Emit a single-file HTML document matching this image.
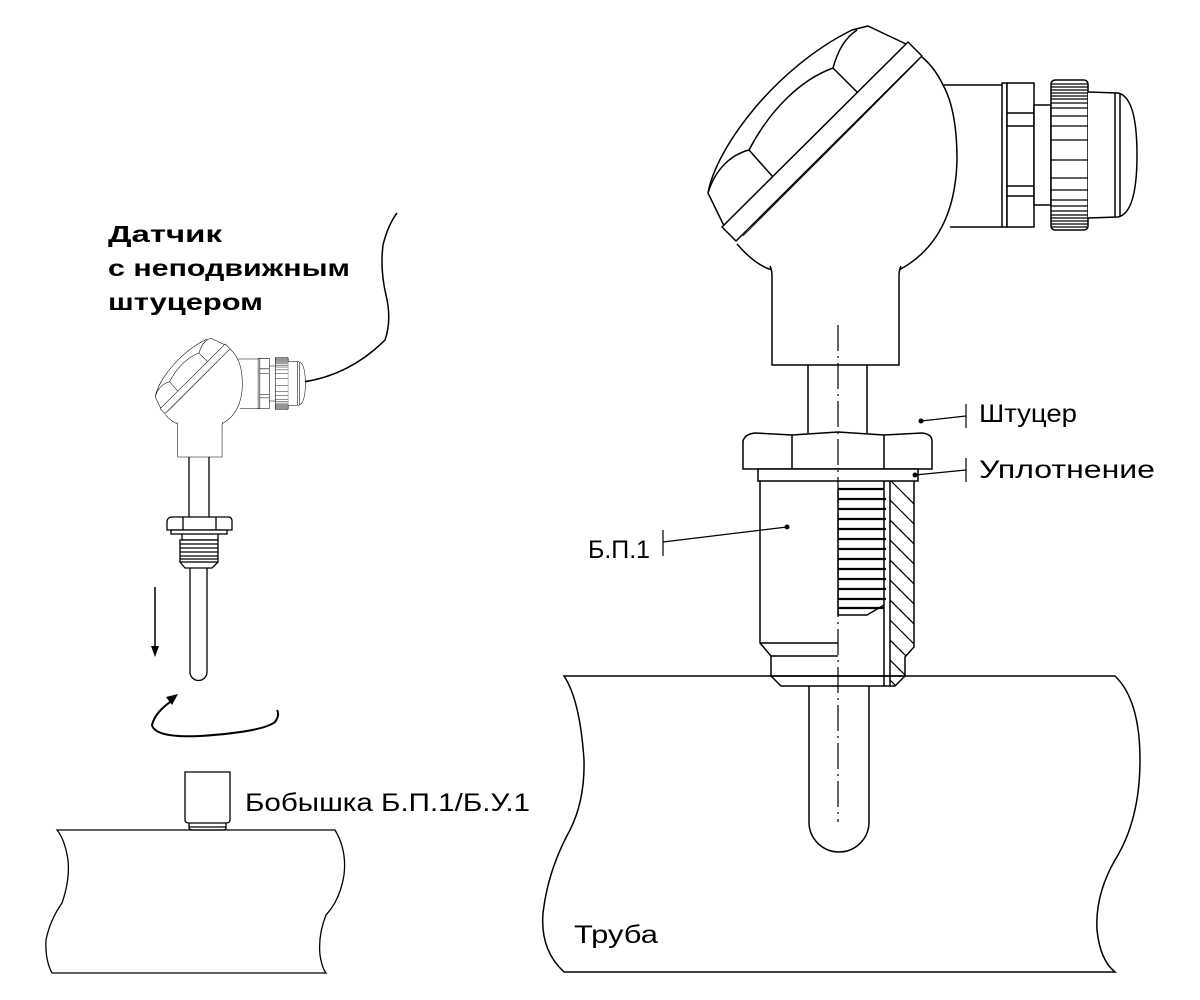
<!DOCTYPE html>
<html><head><meta charset="utf-8"><style>
html,body{margin:0;padding:0;background:#fff}
svg{display:block}
text{font-family:"Liberation Sans","DejaVu Sans",sans-serif;fill:#000}
</style></head><body>
<svg width="1200" height="1000" viewBox="0 0 1200 1000" xmlns="http://www.w3.org/2000/svg">
<defs>
<g id="head" fill="none" stroke="#000" stroke-width="1.5" stroke-linejoin="round">
  <path d="M727,232 L708,193 C716,148 775,68 852,30 L868,26 L906,44" fill="#fff"/>
  <path d="M708,193 C715,170 730,155 749,150 C770,110 800,80 833,68 C838,50 845,38 857,30"/>
  <path d="M749,150 L773,177 M833,68 L857,92"/>
  <polygon points="722,227 908,42 922,56 736,241" fill="#fff"/>
  <line x1="743" y1="236" x2="919" y2="60" stroke-width="0.8"/>
  <path d="M737,244 Q755,265 772,270 Q800,283 835,283 Q870,283 899,270 Q955,240 957,160 Q957,110 943,85 Q935,68 922,57" fill="#fff"/>
  <path d="M943,85 L1002,85 M950,227 L1002,227"/>
  <rect x="1002" y="83" width="5" height="144" fill="#fff"/>
  <rect x="1007" y="83" width="27" height="144" fill="#fff"/>
  <path d="M1007,113 H1034 M1007,126 H1034 M1007,186 H1034 M1007,196 H1034"/>
  <rect x="1034" y="105" width="17" height="100" fill="#fff"/>
  <rect x="1051" y="80" width="37" height="150" rx="4" fill="#fff"/>
  <path d="M1051,84H1088M1051,87H1088M1051,90H1088M1051,93H1088M1051,96H1088M1051,99H1088M1051,103H1088M1051,108H1088M1051,116H1088M1051,126H1088M1051,140H1088M1051,160H1088M1051,178H1088M1051,190H1088M1051,200H1088M1051,206H1088M1051,211H1088M1051,215H1088M1051,218H1088M1051,221H1088M1051,224H1088M1051,227H1088" stroke-width="1.2"/>
  <path d="M1088,92 L1118,93 Q1137,97 1137,155 Q1137,213 1118,217 L1088,218" fill="#fff"/>
  <path d="M1115,93 V217 M1120,94 V216"/>
  <path d="M770,266 Q772,270 772,276 V365 H899 V276 Q899,270 901,266" fill="#fff"/>
</g>
</defs>

<use href="#head"/>
<g fill="none" stroke="#000" stroke-width="1.5">
  <path d="M808,365 V433 M867,365 V433"/>
  <path d="M743,469 V441 Q745,434 755,433 L792,435 L838,432 L884,435 L922,433 Q932,434 932,441 V469 Z" fill="#fff"/>
  <path d="M792,435 V469 M884,435 V469"/>
  <rect x="758" y="469" width="160" height="12" fill="#fff"/>
  <path d="M760,481 V643 L771,656 V676 L781,686 H895 L905,676 V657 L914,647 V481"/>
  <path d="M760,643 H838 M771,656 H838 M771,676 H905"/>
  <path d="M884,481 V686 M890,481 V686"/>
  <path d="M838,490 V615 L867,615 L884,605"/>
</g>
<g stroke="#000" stroke-width="2.2">
  <path d="M838,489H884M838,499H886M838,509H886M838,519H886M838,529H886M838,539H886M838,549H886M838,559H886M838,569H886M838,579H886M838,589H886M838,599H886M838,608H884"/>
</g>
<g stroke="#000" stroke-width="1.2">
  <clipPath id="hc"><path d="M890,481 L914,481 V647 L905,657 V676 L895,686 H890 Z"/></clipPath>
  <g clip-path="url(#hc)">
    <path d="M880,470l40,40M880,490l40,40M880,510l40,40M880,530l40,40M880,550l40,40M880,570l40,40M880,590l40,40M880,610l40,40M880,630l40,40M880,650l40,40M880,670l40,40"/>
  </g>
</g>
<path d="M809,686 V822 A30,30 0 0 0 869,822 V686" fill="none" stroke="#000" stroke-width="1.5"/>
<line x1="838" y1="325" x2="838" y2="822" stroke="#000" stroke-width="1.2" stroke-dasharray="26,5,2,5"/>
<path d="M564,676 H1115 Q1140,700 1140,760 Q1140,820 1115,860 Q1095,895 1097,930 Q1100,960 1115,972 H564 Q540,950 543,913 Q548,870 570,830 Q585,800 584,760 Q580,700 564,676 Z" fill="none" stroke="#000" stroke-width="1.5"/>

<g stroke="#000" stroke-width="1.2">
  <line x1="921" y1="421" x2="966" y2="416"/><line x1="966" y1="404" x2="966" y2="428"/>
  <line x1="915" y1="475" x2="966" y2="470"/><line x1="966" y1="458" x2="966" y2="482"/>
  <line x1="663" y1="542" x2="787" y2="527"/><line x1="663" y1="530" x2="663" y2="556"/>
</g>
<circle cx="921" cy="421" r="2.5"/><circle cx="915" cy="475" r="2.5"/><circle cx="787" cy="527" r="2.5"/>
<text x="979" y="422" font-size="25" textLength="98" lengthAdjust="spacingAndGlyphs">Штуцер</text>
<text x="979" y="478" font-size="25" textLength="176" lengthAdjust="spacingAndGlyphs">Уплотнение</text>
<text x="588" y="558" font-size="25" textLength="62" lengthAdjust="spacingAndGlyphs">Б.П.1</text>
<text x="574" y="943" font-size="25" textLength="84" lengthAdjust="spacingAndGlyphs">Труба</text>

<text x="108" y="242" font-size="23" font-weight="bold" textLength="114" lengthAdjust="spacingAndGlyphs">Датчик</text>
<text x="108" y="276" font-size="23" font-weight="bold" textLength="242" lengthAdjust="spacingAndGlyphs">с неподвижным</text>
<text x="108" y="310" font-size="23" font-weight="bold" textLength="155" lengthAdjust="spacingAndGlyphs">штуцером</text>

<path d="M303,382 Q350,375 385,340 Q392,320 386,295 Q380,270 383,245 Q388,225 397,213" fill="none" stroke="#000" stroke-width="1.5"/>
<g transform="translate(-92.6,329.25) scale(0.35)">
  <use href="#head"/>
</g>
<g fill="none" stroke="#000" stroke-width="1.3">
  <path d="M189,457 V517 M209,457 V517"/>
  <path d="M167,530 V521 Q168,517 172,517 H228 Q232,517 232,521 V530 Z" fill="#fff"/>
  <path d="M183,517 V530 M216,517 V530"/>
  <rect x="171" y="530" width="56" height="4" fill="#fff"/>
  <path d="M182,534 V540 H218 V534"/>
  <rect x="180" y="540" width="38" height="22" fill="#fff"/>
  <path d="M180,544H218M180,548H218M180,552H218M180,556H218M180,559H218"/>
  <path d="M180,562 L185,568 H212 L218,562"/>
  <path d="M190,568 V672 A8.5,8.5 0 0 0 207,672 V568"/>
</g>
<line x1="155" y1="587" x2="155" y2="648" stroke="#000" stroke-width="1.5"/>
<polygon points="151,646 159,646 155,657" fill="#000"/>
<path d="M173,700 Q155,712 152,725 Q155,738 200,736 Q262,732 275,722 Q280,715 277,710" fill="none" stroke="#000" stroke-width="2"/>
<polygon points="178,694 166,697 172,705" fill="#000"/>
<g fill="none" stroke="#000" stroke-width="1.3">
  <path d="M185,820 V772 H230 V820 Q230,823 226,823 H189 Q185,823 185,820 Z"/>
  <path d="M189,823 L189,828 Q190,830 193,830 H223 Q226,830 226,828 V823 M189,827 H226"/>
  <path d="M57,830 H335 Q347,850 344,875 Q340,900 326,915 Q318,935 320,955 Q322,968 326,973 H52 Q45,960 46,940 Q50,920 62,903 Q70,880 68,860 Q65,840 57,830 Z"/>
</g>
<text x="245" y="811" font-size="25" textLength="285" lengthAdjust="spacingAndGlyphs">Бобышка Б.П.1/Б.У.1</text>
</svg>
</body></html>
